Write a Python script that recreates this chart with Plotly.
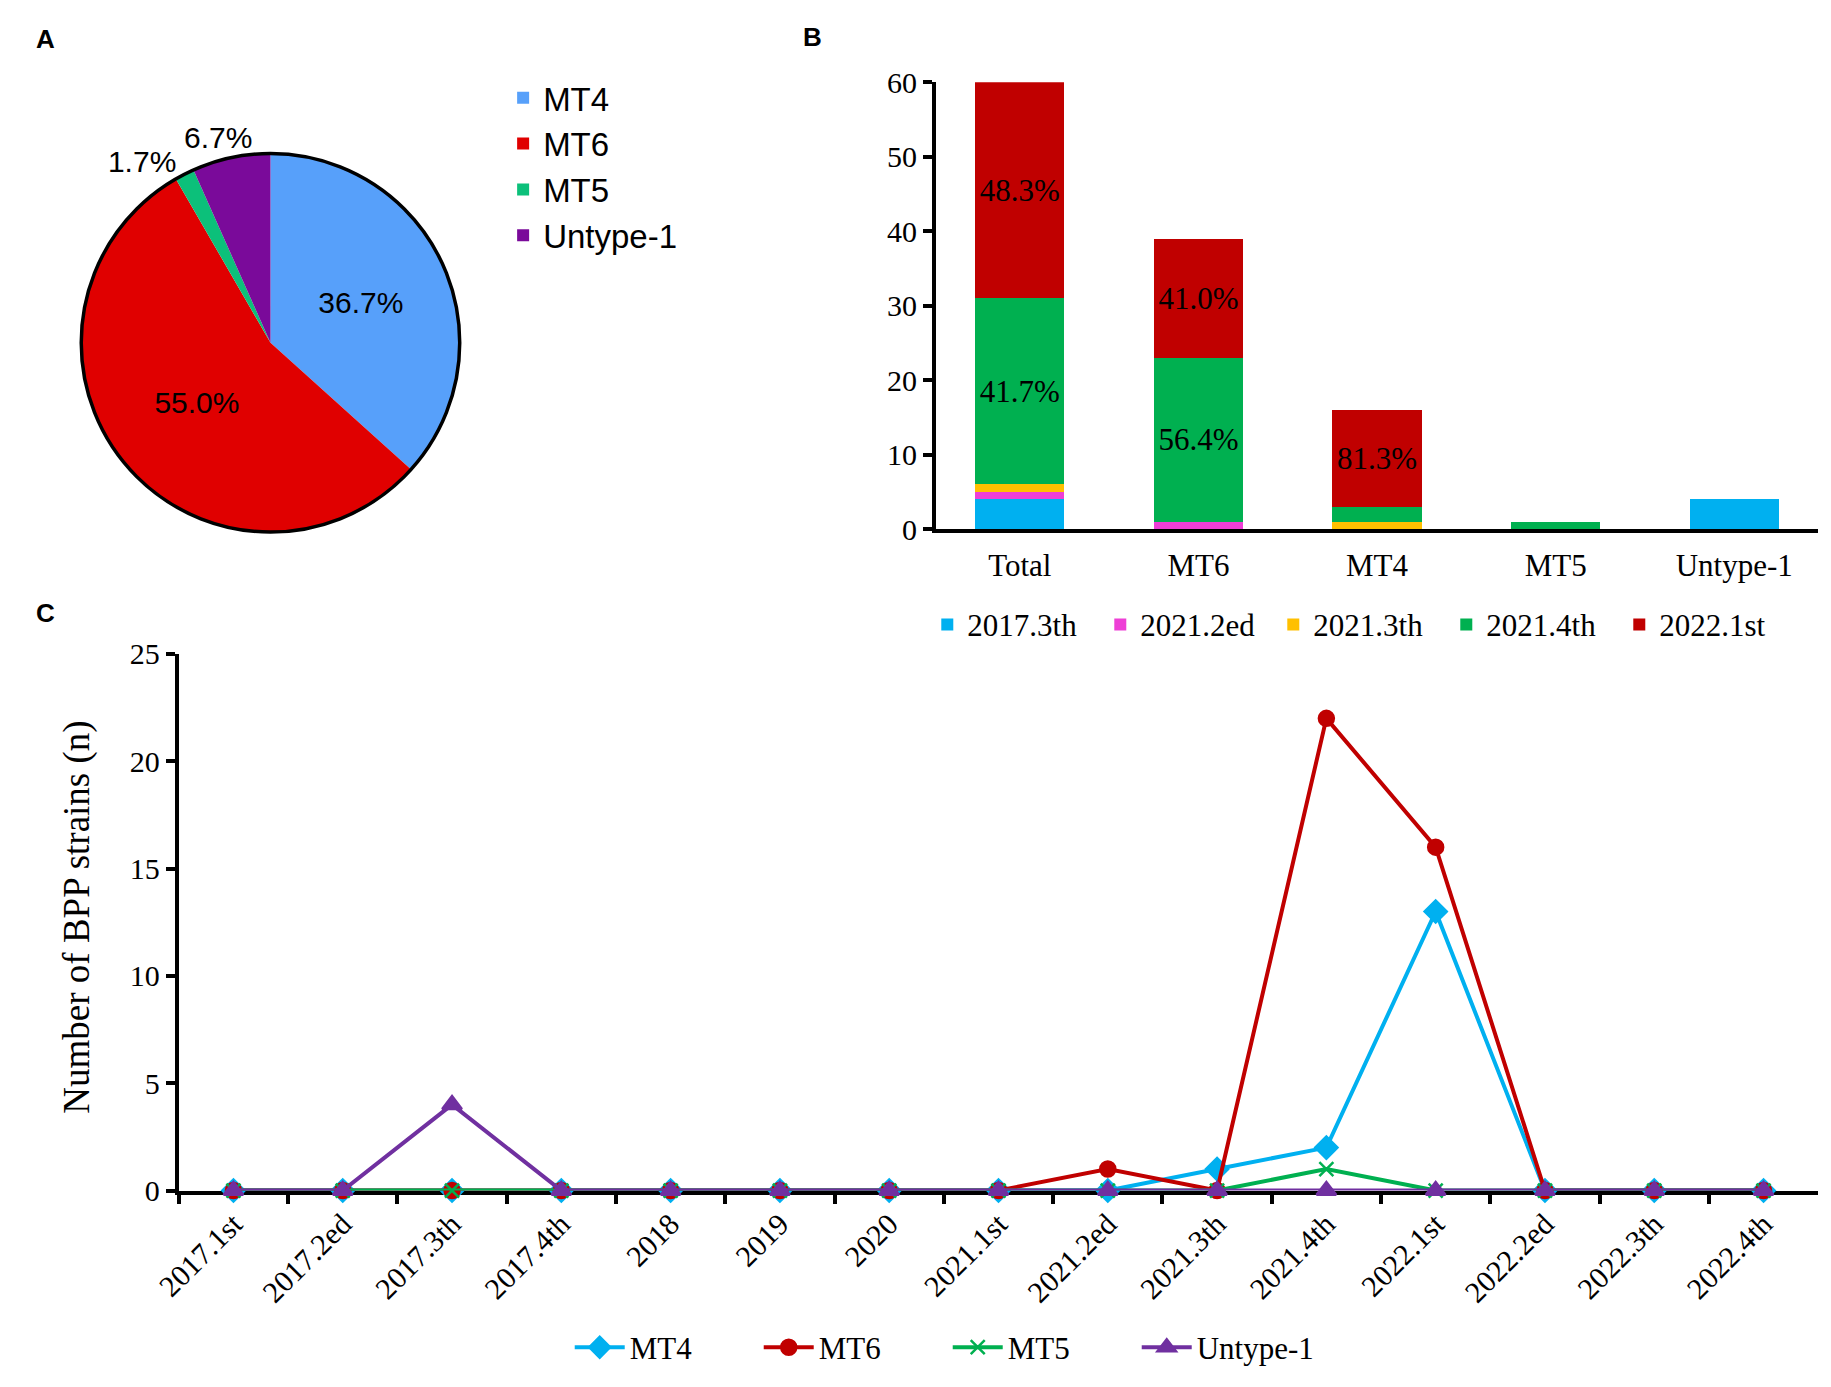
import plotly.graph_objects as go

# ---------------- data ----------------
pie_labels = ["MT4", "MT6", "MT5", "Untype-1"]
pie_values = [22, 33, 1, 4]
pie_colors = ["#57A0FA", "#E00000", "#0CC07A", "#7A0A9A"]

bar_categories = ["Total", "MT6", "MT4", "MT5", "Untype-1"]
bar_periods = ["2017.3th", "2021.2ed", "2021.3th", "2021.4th", "2022.1st"]
bar_2017_3th = [4, 0, 0, 0, 4]
bar_2021_2ed = [1, 1, 0, 0, 0]
bar_2021_3th = [1, 0, 1, 0, 0]
bar_2021_4th = [25, 22, 2, 1, 0]
bar_2022_1st = [29, 16, 13, 0, 0]
bar_text_2021_4th = ["41.7%", "56.4%", "", "", ""]
bar_text_2022_1st = ["48.3%", "41.0%", "81.3%", "", ""]
bar_colors = ["#00B0F0", "#EE3FD6", "#FFC000", "#00B050", "#C00000"]

line_periods = ["2017.1st", "2017.2ed", "2017.3th", "2017.4th", "2018", "2019", "2020",
                "2021.1st", "2021.2ed", "2021.3th", "2021.4th", "2022.1st", "2022.2ed",
                "2022.3th", "2022.4th"]
line_mt4 = [0, 0, 0, 0, 0, 0, 0, 0, 0, 1, 2, 13, 0, 0, 0]
line_mt6 = [0, 0, 0, 0, 0, 0, 0, 0, 1, 0, 22, 16, 0, 0, 0]
line_mt5 = [0, 0, 0, 0, 0, 0, 0, 0, 0, 0, 1, 0, 0, 0, 0]
line_untype1 = [0, 0, 4, 0, 0, 0, 0, 0, 0, 0, 0, 0, 0, 0, 0]

W, H = 1831, 1387
SERIF = "Liberation Serif, Times New Roman, serif"
SANS = "Liberation Sans, Arial, sans-serif"


def px(x):
    return x / W


def py(y):
    return 1 - y / H


fig = go.Figure()

# ---------------- panel A: pie ----------------
pie_domain = dict(x=[px(54), px(442)], y=[py(528), py(140)])
pct = "%{percent:.1%}"
# main coloured pie (labels of MT4, MT6, MT5)
fig.add_trace(go.Pie(
    labels=pie_labels, values=pie_values, sort=False, direction="clockwise", rotation=0,
    marker=dict(colors=pie_colors, line=dict(width=0)),
    texttemplate=[pct, pct, pct, ""], textposition=["inside", "inside", "outside", "none"],
    insidetextorientation="horizontal",
    textfont=dict(family=SANS, size=30, color="black"),
    domain=pie_domain, legend="legend", showlegend=True, hoverinfo="label+percent",
))
# transparent overlay carrying the Untype-1 outside label (kept clear of the 1.7% label)
fig.add_trace(go.Pie(
    labels=pie_labels, values=pie_values, sort=False, direction="clockwise", rotation=9,
    marker=dict(colors=["rgba(0,0,0,0)"] * 4, line=dict(width=0)),
    texttemplate=["", "", "", pct], textposition=["none", "none", "none", "outside"],
    textfont=dict(family=SANS, size=30, color="black"),
    domain=pie_domain, showlegend=False, hoverinfo="skip",
))
# outline ring
fig.add_trace(go.Pie(
    labels=["ring"], values=[1], sort=False,
    marker=dict(colors=["rgba(0,0,0,0)"], line=dict(color="black", width=3.5)),
    textinfo="none", hoverinfo="skip", showlegend=False, domain=pie_domain,
))

# ---------------- panel B: stacked bars ----------------
bar_series = [bar_2017_3th, bar_2021_2ed, bar_2021_3th, bar_2021_4th, bar_2022_1st]
bar_texts = [None, None, None, bar_text_2021_4th, bar_text_2022_1st]
for name, vals, col, txt in zip(bar_periods, bar_series, bar_colors, bar_texts):
    fig.add_trace(go.Bar(
        x=bar_categories, y=vals, name=name, marker=dict(color=col, line=dict(width=0)),
        width=0.5, text=txt, textposition="inside" if txt else "none",
        insidetextanchor="middle", constraintext="none", textangle=0,
        textfont=dict(family=SERIF, size=31, color="black"),
        xaxis="x", yaxis="y", legend="legend2",
    ))

# ---------------- panel C: lines ----------------
line_specs = [
    ("MT4", line_mt4, "#00B0F0", "diamond", 17),
    ("MT6", line_mt6, "#C00000", "circle", 15),
    ("MT5", line_mt5, "#00B050", "x-thin", 14),
    ("Untype-1", line_untype1, "#7030A0", "triangle-up", 17),
]
for name, vals, col, sym, sz in line_specs:
    fig.add_trace(go.Scatter(
        x=line_periods, y=vals, name=name, mode="lines+markers",
        line=dict(color=col, width=4),
        marker=dict(symbol=sym, size=sz, color=col, line=dict(color=col, width=2.5)),
        cliponaxis=False, xaxis="x2", yaxis="y2", legend="legend3",
    ))

tick_font = dict(family=SERIF, size=30, color="black")

fig.update_layout(
    width=W, height=H, margin=dict(l=0, r=0, t=0, b=0),
    paper_bgcolor="white", plot_bgcolor="white",
    barmode="stack",
    xaxis=dict(domain=[px(923), px(1818)], anchor="y", type="category", range=[-0.47, 4.47],
               showline=True, linecolor="black", linewidth=4, ticks="",
               tickfont=dict(family=SERIF, size=31, color="black"),
               showgrid=False, zeroline=False, ticklabelstandoff=6),
    yaxis=dict(domain=[py(525), py(67)], anchor="x", range=[0, 60], dtick=10,
               showline=True, linecolor="black", linewidth=4, ticks="outside",
               ticklen=9, tickwidth=3.5, tickcolor="black", tickfont=tick_font,
               showgrid=False, zeroline=False),
    xaxis2=dict(domain=[px(155), px(1818)], anchor="y2", type="category", range=[-0.5, 14.5],
                showline=True, linecolor="black", linewidth=4, ticks="outside",
                tickson="boundaries", ticklen=9, tickwidth=3.5, tickcolor="black",
                tickangle=-45, tickfont=dict(family=SERIF, size=30, color="black"),
                showgrid=False, zeroline=False, layer="below traces"),
    yaxis2=dict(domain=[py(1203), py(653)], anchor="x2", range=[0, 25], dtick=5,
                showline=True, linecolor="black", linewidth=4, ticks="outside",
                ticklen=9, tickwidth=3.5, tickcolor="black", tickfont=tick_font,
                showgrid=False, zeroline=False, layer="below traces"),
    legend=dict(x=px(484), y=py(54), xanchor="left", yanchor="top", orientation="v",
                font=dict(family=SANS, size=33, color="black"), bgcolor="rgba(0,0,0,0)",
                tracegroupgap=0),
    legend2=dict(x=px(1353), y=py(623), xanchor="center", yanchor="middle", orientation="h",
                 font=dict(family=SERIF, size=31, color="black"), bgcolor="rgba(0,0,0,0)",
                 traceorder="normal", entrywidth=128, entrywidthmode="pixels"),
    legend3=dict(x=px(935), y=py(1364), xanchor="center", yanchor="middle", orientation="h",
                 font=dict(family=SERIF, size=31, color="black"), bgcolor="rgba(0,0,0,0)",
                 traceorder="normal", itemwidth=50, entrywidth=124, entrywidthmode="pixels"),
    annotations=[
        dict(text="<b>A</b>", x=px(8), y=py(23), xref="paper", yref="paper", showarrow=False,
             xanchor="left", yanchor="middle", font=dict(family=SANS, size=26, color="black")),
        dict(text="<b>B</b>", x=px(786), y=py(21), xref="paper", yref="paper", showarrow=False,
             xanchor="left", yanchor="middle", font=dict(family=SANS, size=26, color="black")),
        dict(text="<b>C</b>", x=px(8), y=py(611), xref="paper", yref="paper", showarrow=False,
             xanchor="left", yanchor="middle", font=dict(family=SANS, size=26, color="black")),
        dict(text="Number of BPP strains (n)", x=px(52), y=py(923), xref="paper", yref="paper",
             showarrow=False, textangle=-90, xanchor="center", yanchor="middle",
             font=dict(family=SERIF, size=37, color="black")),
    ],
)

fig.write_html(
    "out.html",
    config={"displayModeBar": False},
    post_script="document.body.style.margin='0';document.body.style.overflow='hidden';",
)
